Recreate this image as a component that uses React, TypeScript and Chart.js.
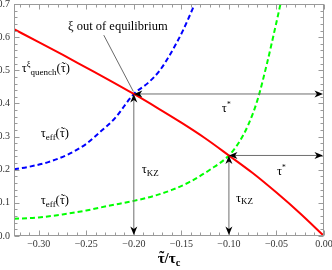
import React, { useEffect, useRef } from "react";
import { Chart, registerables } from "chart.js";

Chart.register(...registerables);

// ---- data ----
const RED_X = [-0.326, -0.3, -0.275, -0.25, -0.225, -0.2, -0.175, -0.15, -0.125, -0.1, -0.075, -0.05, -0.025, 0];
const RED_Y = [0.624, 0.585, 0.547, 0.508, 0.469, 0.4285, 0.386, 0.342, 0.295, 0.243, 0.19, 0.131, 0.068, 0];

const BLUE_X = [-0.326, -0.31, -0.29, -0.27, -0.25, -0.235, -0.22, -0.2, -0.185, -0.1726, -0.162, -0.148, -0.136, -0.128];
const BLUE_Y = [0.201, 0.209, 0.223, 0.245, 0.278, 0.315, 0.355, 0.4285, 0.462, 0.5, 0.547, 0.622, 0.7, 0.755];

const GREEN_X = [-0.326, -0.3, -0.275, -0.25, -0.225, -0.2, -0.18, -0.16, -0.14, -0.12, -0.1, -0.09, -0.08, -0.07, -0.06, -0.05, -0.045];
const GREEN_Y = [0.052, 0.056, 0.065, 0.077, 0.092, 0.106, 0.12, 0.139, 0.165, 0.2, 0.243, 0.28, 0.333, 0.41, 0.52, 0.645, 0.71];

const KZ_X = [-0.2, -0.1];
const KZ_Y = [0.4285, 0.243];

const X_TICKS = [-0.3, -0.25, -0.2, -0.15, -0.1, -0.05, 0];
const Y_TICKS = [0, 0.1, 0.2, 0.3, 0.4, 0.5, 0.6, 0.7];

const X_MIN = -0.326;
const X_MAX = 0;
const Y_MIN = 0;
const Y_MAX = 0.7;

const SERIF = "'Liberation Serif', 'Times New Roman', serif";
const TT = "\u03C4\u0303"; // tau with tilde (tilde drawn on top)

type Part = [string, number, number, boolean?];

function setFont(ctx: CanvasRenderingContext2D, p: Part) {
  ctx.font = `${p[3] ? "bold " : ""}${p[1]}px ${SERIF}`;
}

function partWidth(ctx: CanvasRenderingContext2D, p: Part) {
  setFont(ctx, p);
  return ctx.measureText(p[0].replace(/\u0303/g, "")).width;
}

function drawPart(ctx: CanvasRenderingContext2D, x: number, y: number, p: Part) {
  setFont(ctx, p);
  const txt = p[0];
  let cx = x;
  for (let i = 0; i < txt.length; i++) {
    const ch = txt[i];
    if (ch === "\u0303") continue;
    const w = ctx.measureText(ch).width;
    ctx.fillText(ch, cx, y + p[2]);
    if (txt[i + 1] === "\u0303") {
      ctx.save();
      ctx.textAlign = "center";
      ctx.fillText("\u02DC", cx + w / 2 + 0.5, y + p[2] - p[1] * 0.12);
      ctx.restore();
    }
    cx += w;
  }
}

function rich(ctx: CanvasRenderingContext2D, x: number, y: number, parts: Part[], align: "left" | "center" = "left") {
  let w = 0;
  for (const p of parts) w += partWidth(ctx, p);
  let cx = align === "center" ? x - w / 2 : x;
  ctx.textAlign = "left";
  ctx.textBaseline = "alphabetic";
  for (const p of parts) {
    drawPart(ctx, cx, y, p);
    cx += partWidth(ctx, p);
  }
}

function head(ctx: CanvasRenderingContext2D, tx: number, ty: number, dx: number, dy: number) {
  const len = 8.5, half = 3.5;
  const bx = tx - dx * len, by = ty - dy * len;
  const nx = tx - dx * len * 0.72, ny = ty - dy * len * 0.72;
  const ox = -dy * half, oy = dx * half;
  ctx.beginPath();
  ctx.moveTo(tx, ty);
  ctx.lineTo(bx + ox, by + oy);
  ctx.lineTo(nx, ny);
  ctx.lineTo(bx - ox, by - oy);
  ctx.closePath();
  ctx.fill();
}

const overlay = {
  id: "overlay",
  afterDatasetsDraw(chart: any) {
    const { ctx, chartArea: a, scales } = chart;
    const xs = scales.x, ys = scales.y;
    const px = (v: number) => xs.getPixelForValue(v);
    const py = (v: number) => ys.getPixelForValue(v);
    ctx.save();

    // frame
    const L = Math.round(a.left) + 0.5, R = Math.round(a.right) - 0.5;
    const T = Math.round(a.top) + 0.5, B = Math.round(a.bottom) - 0.5;
    ctx.strokeStyle = "#9a9a9a";
    ctx.lineWidth = 1;
    ctx.strokeRect(L, T, R - L, B - T);

    // inward ticks on all sides
    ctx.beginPath();
    for (let i = -32; i <= 0; i++) {
      const v = i / 100;
      const major = i % 5 === 0;
      const len = major ? 5 : 3;
      const x = Math.round(px(v)) + 0.5;
      ctx.moveTo(x, B); ctx.lineTo(x, B - len);
      ctx.moveTo(x, T); ctx.lineTo(x, T + len);
    }
    for (let i = 0; i <= 35; i++) {
      const v = i / 50;
      const major = i % 5 === 0;
      const len = major ? 5 : 3;
      const y = Math.round(py(v)) + 0.5;
      ctx.moveTo(L, y); ctx.lineTo(L + len, y);
      ctx.moveTo(R, y); ctx.lineTo(R - len, y);
    }
    ctx.stroke();

    // arrows at the two crossings
    for (let k = 0; k < KZ_X.length; k++) {
      const cx = px(KZ_X[k]), cy = py(KZ_Y[k]);
      const ex = px(0), ey = py(0);
      ctx.strokeStyle = "#6e6e6e";
      ctx.lineWidth = 1;
      ctx.beginPath();
      ctx.moveTo(cx + 4, cy); ctx.lineTo(ex - 4, cy);
      ctx.moveTo(cx, cy + 4); ctx.lineTo(cx, ey - 4);
      ctx.stroke();
      ctx.fillStyle = "#000";
      head(ctx, cx, cy, -1, 0);
      head(ctx, ex - 1, cy, 1, 0);
      head(ctx, cx, cy, 0, -1);
      head(ctx, cx, ey - 1, 0, 1);
    }

    // pointer line for the ξ label
    ctx.strokeStyle = "#444";
    ctx.lineWidth = 0.8;
    ctx.beginPath();
    ctx.moveTo(px(-0.2316), py(0.606));
    ctx.lineTo(px(-0.2005), py(0.436));
    ctx.stroke();

    ctx.fillStyle = "#000";
    rich(ctx, px(-0.2168), py(0.623), [["\u03BE out of equilibrium", 12.5, 0]], "center");
    rich(ctx, px(-0.3179), py(0.494), [["\u03C4", 12.5, 0], ["\u03BE", 8.5, -5], ["quench", 9, 2.5], ["(" + TT + ")", 12.5, 0]]);
    rich(ctx, px(-0.2979), py(0.298), [["\u03C4", 12.5, 0], ["eff", 9, 2.5], ["(" + TT + ")", 12.5, 0]]);
    rich(ctx, px(-0.2979), py(0.096), [["\u03C4", 12.5, 0], ["eff", 9, 2.5], ["(" + TT + ")", 12.5, 0]]);
    rich(ctx, px(-0.1074), py(0.374), [["\u03C4", 12.5, 0], ["*", 7.5, -5]]);
    rich(ctx, px(-0.0495), py(0.184), [["\u03C4", 12.5, 0], ["*", 7.5, -5]]);
    rich(ctx, px(-0.1916), py(0.19), [["\u03C4", 12.5, 0], ["KZ", 9, 2.5]]);
    rich(ctx, px(-0.0926), py(0.1026), [["\u03C4", 12.5, 0], ["KZ", 9, 2.5]]);

    // x-axis title
    rich(ctx, (a.left + a.right) / 2, 263, [[TT + "/\u03C4", 15, 0, true], ["c", 10.5, 3, true]], "center");

    ctx.restore();
  },
};

const fmtX = (v: number) => (v < 0 ? "\u2212" + Math.abs(v).toFixed(2) : v.toFixed(2));

export default function App() {
  const ref = useRef<HTMLCanvasElement | null>(null);

  useEffect(() => {
    document.body.style.margin = "0";
    if (!ref.current) return;
    const pts = (xs: number[], ys: number[]) => xs.map((x, i) => ({ x, y: ys[i] }));
    const chart = new Chart(ref.current, {
      type: "scatter",
      data: {
        datasets: [
          {
            label: "tau_quench",
            data: pts(RED_X, RED_Y),
            showLine: true,
            borderColor: "#ff0000",
            borderWidth: 2,
            pointRadius: 0,
            cubicInterpolationMode: "monotone",
          },
          {
            label: "tau_eff blue",
            data: pts(BLUE_X, BLUE_Y),
            showLine: true,
            borderColor: "#0000ff",
            borderWidth: 2,
            borderDash: [5, 3],
            pointRadius: 0,
            cubicInterpolationMode: "monotone",
          },
          {
            label: "tau_eff green",
            data: pts(GREEN_X, GREEN_Y),
            showLine: true,
            borderColor: "#00ff00",
            borderWidth: 2,
            borderDash: [5, 3],
            pointRadius: 0,
            cubicInterpolationMode: "monotone",
          },
        ] as any,
      },
      options: {
        animation: false,
        responsive: false,
        devicePixelRatio: 1,
        layout: { padding: { top: 4, right: 8, left: 0, bottom: 0 } },
        plugins: { legend: { display: false }, tooltip: { enabled: false } },
        scales: {
          x: {
            type: "linear",
            min: X_MIN,
            max: X_MAX,
            grid: { display: false, drawTicks: false },
            border: { display: false },
            afterBuildTicks: (s: any) => {
              s.ticks = X_TICKS.map((value) => ({ value }));
            },
            afterFit: (s: any) => {
              s.height = 34;
              s.paddingLeft = 0;
              s.paddingRight = 0;
            },
            ticks: {
              autoSkip: false,
              maxRotation: 0,
              padding: 2,
              color: "#333",
              font: { family: SERIF, size: 10 },
              callback: (v: any) => fmtX(Number(v)),
            },
          },
          y: {
            type: "linear",
            min: Y_MIN,
            max: Y_MAX,
            grid: { display: false, drawTicks: false },
            border: { display: false },
            afterBuildTicks: (s: any) => {
              s.ticks = Y_TICKS.map((value) => ({ value }));
            },
            afterFit: (s: any) => {
              s.width = 14;
              s.paddingTop = 0;
              s.paddingBottom = 0;
            },
            ticks: {
              autoSkip: false,
              padding: 4,
              color: "#333",
              font: { family: SERIF, size: 10 },
              callback: (v: any) => Number(v).toFixed(1),
            },
          },
        },
      } as any,
      plugins: [overlay],
    });
    return () => chart.destroy();
  }, []);

  return (
    <div style={{ width: 332, height: 270, background: "#fff" }}>
      <canvas ref={ref} width={332} height={270} style={{ display: "block" }} />
    </div>
  );
}
